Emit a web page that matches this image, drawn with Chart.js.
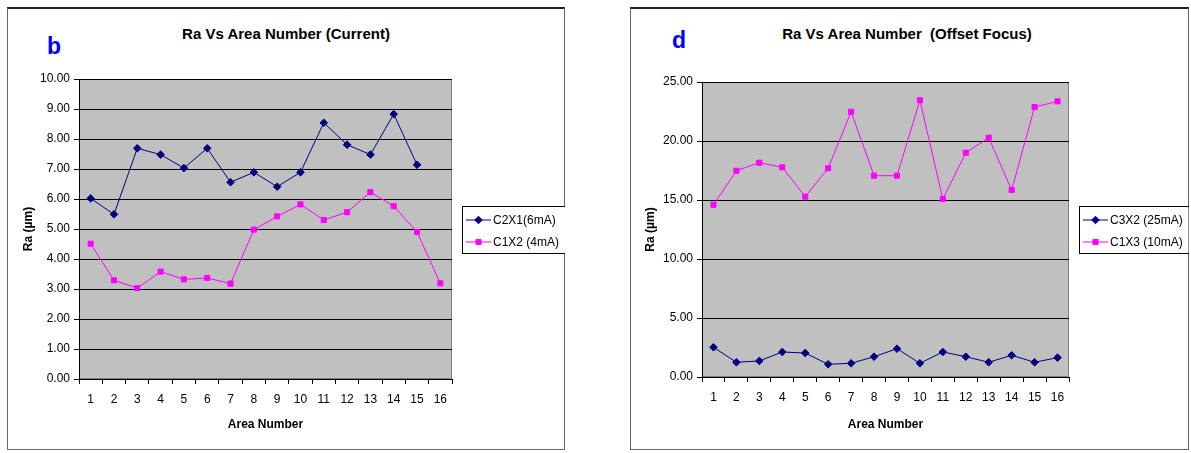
<!DOCTYPE html>
<html>
<head>
<meta charset="utf-8">
<script src="https://cdn.jsdelivr.net/npm/chart.js@4.4.1/dist/chart.umd.min.js"></script>
<style>
  body { margin: 0; background: #fff; font-family: 'Liberation Sans', Arial, sans-serif; }
  .page { position: relative; width: 1191px; height: 453px; overflow: hidden; }
  .frame { position: absolute; box-sizing: border-box; border: 1px solid #666; border-top: 2px solid #222; }
  .holder { position: absolute; }
  .title { position: absolute; width: 400px; text-align: center; font-weight: bold; font-size: 15px; line-height: 15px; color: #000; white-space: pre; }
  .tag { position: absolute; font-weight: bold; font-size: 23px; line-height: 23px; color: #0000ff; }
</style>
</head>
<body>
<div class="page">
  <div class="frame" style="left:7px;top:7px;width:558px;height:443px;"></div>
  <div class="frame" style="left:630px;top:7px;width:559px;height:443px;"></div>
  <div class="tag" style="left:47px;top:35px;">b</div>
  <div class="tag" style="left:672px;top:29px;">d</div>
  <div class="title" style="left:86px;top:26px;">Ra Vs Area Number (Current)</div>
  <div class="title" style="left:707px;top:26px;">Ra Vs Area Number  (Offset Focus)</div>
  <div class="holder" style="left:7px;top:7px;"><canvas id="chart-current" width="558" height="443"></canvas></div>
  <div class="holder" style="left:630px;top:7px;"><canvas id="chart-focus" width="559" height="443"></canvas></div>
</div>
<script>
const areas = ['1', '2', '3', '4', '5', '6', '7', '8', '9', '10', '11', '12', '13', '14', '15', '16'];

// b: current
const c2x1 = [6.02, 5.49, 7.69, 7.48, 7.03, 7.69, 6.56, 6.89, 6.41, 6.89, 8.54, 7.81, 7.48, 8.83, 7.14, null];
const c1x2 = [4.51, 3.29, 3.03, 3.58, 3.32, 3.37, 3.18, 4.98, 5.42, 5.82, 5.30, 5.56, 6.23, 5.76, 4.90, 3.19];

// d: offset focus
const c3x2 = [2.52, 1.25, 1.36, 2.12, 2.03, 1.08, 1.16, 1.72, 2.40, 1.16, 2.12, 1.72, 1.25, 1.84, 1.25, 1.64];
const c1x3 = [14.60, 17.48, 18.16, 17.77, 15.28, 17.69, 22.48, 17.06, 17.06, 23.45, 15.08, 19.00, 20.28, 15.85, 22.88, 23.36];

const NAVY = '#000080';
const MAGENTA = '#ff00ff';
const FONT = "'Liberation Sans', Arial, sans-serif";

const plotBackground = {
    id: 'plotBackground',
    beforeDraw(chart) {
        const {ctx, chartArea: a} = chart;
        ctx.save();
        ctx.fillStyle = '#c0c0c0';
        ctx.fillRect(a.left, a.top, a.right - a.left, a.bottom - a.top);
        ctx.strokeStyle = '#808080';
        ctx.lineWidth = 1;
        ctx.strokeRect(a.left + 0.5, a.top + 0.5, a.right - a.left - 1, a.bottom - a.top - 1);
        ctx.restore();
    }
};

// framed legend to the right of the plot, like the spreadsheet one
const boxLegend = {
    id: 'boxLegend',
    afterDraw(chart) {
        const {ctx, chartArea: a} = chart;
        const sets = chart.data.datasets;
        ctx.save();
        ctx.font = '12px ' + FONT;
        const textW = Math.max(...sets.map(d => ctx.measureText(d.label).width));
        const x0 = a.right + 10;
        const y0 = 199;
        const rowH = 22;
        const w = 4 + 25 + 2 + textW + 6;
        const h = sets.length * rowH + 3;
        ctx.fillStyle = '#fff';
        ctx.fillRect(x0, y0, w, h);
        ctx.strokeStyle = '#000';
        ctx.lineWidth = 1;
        ctx.strokeRect(x0 + 0.5, y0 + 0.5, w, h);
        sets.forEach((d, i) => {
            const y = y0 + 14 + i * rowH;
            ctx.strokeStyle = d.borderColor;
            ctx.beginPath();
            ctx.moveTo(x0 + 4, y);
            ctx.lineTo(x0 + 29, y);
            ctx.stroke();
            ctx.fillStyle = d.borderColor;
            Chart.helpers.drawPoint(ctx, {pointStyle: d.pointStyle, radius: d.pointRadius, borderWidth: 1}, x0 + 16.5, y);
            ctx.fillStyle = '#000';
            ctx.textBaseline = 'middle';
            ctx.fillText(d.label, x0 + 31, y + 1);
        });
        ctx.restore();
    }
};

const series = (label, values, color, style) => ({
    label: label,
    data: values,
    borderColor: color,
    backgroundColor: color,
    borderWidth: 1,
    pointStyle: style,
    pointRadius: style === 'rect' ? 3.6 : 3.8,
    pointBorderWidth: 1,
    pointHoverRadius: 4,
    spanGaps: false,
    tension: 0
});

const makeChart = (id, datasets, yMax, yStep, box) => new Chart(document.getElementById(id), {
    type: 'line',
    data: { labels: areas, datasets: datasets },
    options: {
        responsive: false,
        animation: false,
        events: [],
        layout: { padding: { top: box.top, right: box.right, bottom: 0, left: 0 } },
        plugins: { legend: { display: false }, tooltip: { enabled: false } },
        scales: {
            x: {
                offset: true,
                afterFit: s => { s.height = box.xHeight; },
                grid: { offset: true, drawOnChartArea: false, color: '#000', tickLength: 5 },
                border: { color: '#000' },
                ticks: { color: '#000', padding: 8, maxRotation: 0, autoSkip: false, font: { family: FONT, size: 12 } },
                title: { display: true, text: 'Area Number', color: '#000', font: { family: FONT, size: 12, weight: 'bold' }, padding: { top: 0, bottom: 18 } }
            },
            y: {
                min: 0,
                max: yMax,
                afterFit: s => { s.width = box.yWidth; },
                grid: { color: '#000', tickLength: 5 },
                border: { color: '#000' },
                ticks: { stepSize: yStep, color: '#000', padding: 4, font: { family: FONT, size: 12 }, callback: v => v.toFixed(2) },
                title: { display: true, text: 'Ra (µm)', color: '#000', font: { family: FONT, size: 12, weight: 'bold' }, padding: { top: box.titlePad, bottom: 0 } }
            }
        }
    },
    plugins: [plotBackground, boxLegend]
});

makeChart('chart-current', [
    series('C2X1(6mA)', c2x1, NAVY, 'rectRot'),
    series('C1X2 (4mA)', c1x2, MAGENTA, 'rect')
], 10, 1, { top: 72, right: 113, xHeight: 71, yWidth: 72, titlePad: 14 });

makeChart('chart-focus', [
    series('C3X2 (25mA)', c3x2, NAVY, 'rectRot'),
    series('C1X3 (10mA)', c1x3, MAGENTA, 'rect')
], 25, 5, { top: 75, right: 120, xHeight: 73, yWidth: 72, titlePad: 13 });
</script>
</body>
</html>
